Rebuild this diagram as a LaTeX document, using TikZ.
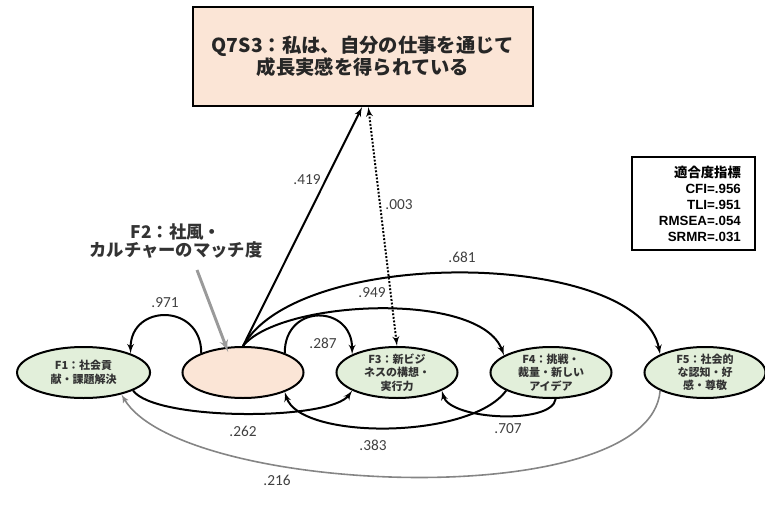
\documentclass[tikz,border=0pt]{standalone}
\usepackage{fontspec}
\usepackage{xcolor}
\usepackage{tikz}
\usetikzlibrary{shapes.geometric, arrows}
\setmainfont{Carlito}
\newfontfamily\jp{Noto Sans CJK JP}
\newfontfamily\arial{Liberation Sans}

\definecolor{factorgreen}{HTML}{E2EFDA}
\definecolor{peach}{HTML}{FBE5D6}
\definecolor{coefgray}{HTML}{404040}
\definecolor{pathgray}{HTML}{858585}
\definecolor{pointgray}{HTML}{9A9A9A}

\begin{document}
\begin{tikzpicture}[
    x=0.75pt, y=-0.75pt,
    node distance=115.5pt,
    factor/.style={ellipse, draw, line width=1.5pt, fill=factorgreen, minimum width=90.75pt, minimum height=38.25pt, inner sep=-4pt, align=center, text=black!80, font=\jp\bfseries\fontsize{8.25}{10}\selectfont},
    outcome/.style={rectangle, draw, line width=1.5pt, fill=peach, minimum width=255pt, minimum height=74.25pt, align=center, text=black!85, font=\jp\bfseries\fontsize{14.5}{15.5}\selectfont},
    fitbox/.style={rectangle, draw, line width=1.5pt, minimum width=92.25pt, minimum height=69.75pt, text width=71pt, inner xsep=10.6pt, align=right, font=\arial\bfseries\fontsize{10}{12}\selectfont},
    f2text/.style={align=center, text=black!80, font=\jp\bfseries\fontsize{13}{14}\selectfont},
    coef/.style={inner sep=0pt, text=coefgray, font=\fontsize{11.5}{13}\selectfont},
    line/.style={draw, line width=1.5pt, -latex'},
    dline/.style={draw, line width=1.5pt, dash pattern=on 1.4pt off 1.3pt, latex'-latex'},
    gline/.style={draw, pathgray, line width=1.2pt, -latex'},
    pointer/.style={draw, pointgray, line width=2.2pt, -latex'}
]
\useasboundingbox (0,0) rectangle (765,507);

\node [outcome] (q7s3) at (363,56.5) {Q7S3：私は、自分の仕事を通じて\\成長実感を得られている};
\node [factor, fill=peach, text=black] (f2) at (243,372.5) {};
\node [factor, right of=f2] (f3) {F3：新ビジ\\ネスの構想・\\実行力};
\node [factor, right of=f3] (f4) {F4：挑戦・\\裁量・新しい\\アイデア};
\node [factor, right of=f4] (f5) {F5：社会的\\な認知・好\\感・尊敬};
\node [factor, left of=f2, node distance=119.6pt, minimum width=99.75pt] (f1) {F1：社会貢\\献・課題解決};
\node [f2text] (f2label) at (176,241) {F2：社風・\\カルチャーのマッチ度};
\node [fitbox] (fit) at (693.5,203.5) {{\jp 適合度指標}\hspace*{9.75pt}\\CFI=.956\\TLI=.951\\RMSEA=.054\\SRMR=.031};
\coordinate (f2ptr) at (197,270);

\node [coef] (c419) at (307,180) {.419};
\node [coef] (c003) at (399,205) {.003};
\node [coef] (c681) at (462,257) {.681};
\node [coef] (c949) at (372,293) {.949};
\node [coef] (c971) at (165,303) {.971};
\node [coef] (c287) at (323,343) {.287};
\node [coef] (c262) at (243,431) {.262};
\node [coef] (c383) at (373,445) {.383};
\node [coef] (c707) at (508,429) {.707};
\node [coef] (c216) at (277,480) {.216};

\path [pointer] (f2ptr) -- ([yshift=-4pt]f2.120);
\path [line] (f2.north) -- (q7s3.-91);
\path [dline] (f3.north) -- (q7s3.-84);
\path [line] (f2.155) .. controls +(0,-50) and +(0,-50) .. (f1.22);
\path [line] (f2.25) .. controls +(0,-50) and +(0,-50) .. (f3.158);
\path [line] (f2.north) .. controls (280,300) and (480,290) .. (f4.160);
\path [line] (f2.north) .. controls (300,245) and (640,250) .. (f5.158);
\path [line] (f1.-20) .. controls (155,421) and (330,421) .. (f3.-158);
\path [line] (f4.-158) .. controls (470,440) and (300,440) .. (f2.-25);
\path [line] (f4.-80) .. controls (552,425) and (450,420) .. (f3.-22);
\path [gline] (f5.-158) .. controls (650,515) and (180,495) .. (f1.-30);
\end{tikzpicture}
\end{document}
